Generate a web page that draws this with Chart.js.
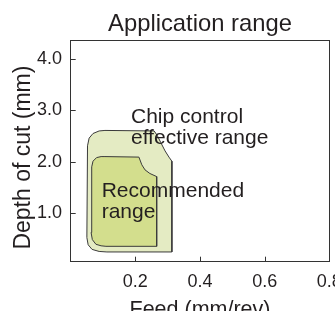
<!DOCTYPE html>
<html>
<head>
<meta charset="utf-8">
<script src="https://cdn.jsdelivr.net/npm/chart.js@4.4.1/dist/chart.umd.min.js"></script>
<style>
  html, body { margin: 0; padding: 0; background: #fff; }
</style>
</head>
<body>
<canvas id="appChart" width="335" height="311"></canvas>
<script>
// axis ticks
const feedTicks = [0.2, 0.4, 0.6, 0.8];
const depthTicks = [1, 2, 3, 4];

// chip control effective range (outline)
const outerFeed = [0.106, 0.258, 0.267, 0.279, 0.292, 0.304, 0.313, 0.313, 0.112, 0.088, 0.066, 0.054, 0.050, 0.052, 0.057, 0.069, 0.088, 0.106];
const outerDepth = [2.61, 2.60, 2.52, 2.37, 2.21, 2.09, 2.01, 0.24, 0.24, 0.25, 0.29, 0.38, 0.52, 2.31, 2.46, 2.55, 2.60, 2.61];

// recommended range
const innerFeed = [0.106, 0.211, 0.220, 0.230, 0.245, 0.266, 0.266, 0.109, 0.094, 0.078, 0.067, 0.063, 0.065, 0.069, 0.080, 0.094, 0.106];
const innerDepth = [2.10, 2.09, 1.94, 1.84, 1.77, 1.71, 0.35, 0.35, 0.36, 0.39, 0.48, 0.62, 1.90, 2.01, 2.08, 2.10, 2.10];

const toPoints = (xs, ys) => xs.map((x, i) => ({ x: x, y: ys[i] }));

const FONT = "'Liberation Sans', Arial, Helvetica, sans-serif";
const INK = "#231f20";
const AXIS = "#333333";

// area labels, drawn at data coordinates
const areaLabels = {
  id: "areaLabels",
  afterDatasetsDraw(chart) {
    const { ctx, scales } = chart;
    const notes = [
      { lines: ["Chip control", "effective range"], x: 0.1865, y: 2.753 },
      { lines: ["Recommended", "range"], x: 0.0959, y: 1.311 }
    ];
    ctx.save();
    ctx.font = "21px " + FONT;
    ctx.fillStyle = INK;
    ctx.textAlign = "left";
    ctx.textBaseline = "alphabetic";
    notes.forEach(n => {
      const px = scales.x.getPixelForValue(n.x);
      const py = scales.y.getPixelForValue(n.y);
      n.lines.forEach((t, i) => ctx.fillText(t, px, py + i * 21));
    });
    ctx.restore();
  }
};

// short tick marks pointing into the plot
const inwardTicks = {
  id: "inwardTicks",
  afterDraw(chart) {
    const { ctx, chartArea, scales } = chart;
    ctx.save();
    ctx.strokeStyle = AXIS;
    ctx.lineWidth = 1;
    ctx.beginPath();
    feedTicks.forEach(v => {
      const px = Math.round(scales.x.getPixelForValue(v)) + 0.5;
      ctx.moveTo(px, chartArea.bottom);
      ctx.lineTo(px, chartArea.bottom - 5);
    });
    depthTicks.forEach(v => {
      const py = Math.round(scales.y.getPixelForValue(v)) + 0.5;
      ctx.moveTo(chartArea.left, py);
      ctx.lineTo(chartArea.left + 5, py);
    });
    ctx.stroke();
    ctx.restore();
  }
};

// fix the axis box sizes so the plot area sits where it does in the picture
const pinBox = (w, h) => s => {
  if (w !== null) s.width = w;
  if (h !== null) s.height = h;
  s.paddingLeft = 0; s.paddingRight = 0; s.paddingTop = 0; s.paddingBottom = 0;
};

new Chart(document.getElementById("appChart"), {
  type: "scatter",
  data: {
    datasets: [
      {
        label: "Recommended range",
        data: toPoints(innerFeed, innerDepth),
        showLine: true,
        fill: "shape",
        backgroundColor: "#d3de8d",
        borderColor: "#3a3a3a",
        borderWidth: 1,
        pointRadius: 0,
        tension: 0
      },
      {
        label: "Chip control effective range",
        data: toPoints(outerFeed, outerDepth),
        showLine: true,
        fill: "shape",
        backgroundColor: "#e4ebc3",
        borderColor: "#3a3a3a",
        borderWidth: 1,
        pointRadius: 0,
        tension: 0
      }
    ]
  },
  options: {
    responsive: false,
    animation: false,
    layout: { autoPadding: false, padding: { left: 0, right: 5.7, top: 0, bottom: 0 } },
    plugins: { legend: { display: false }, tooltip: { enabled: false } },
    scales: {
      x: {
        type: "linear",
        position: "bottom",
        min: 0,
        max: 0.8,
        afterBuildTicks: s => { s.ticks = feedTicks.map(v => ({ value: v })); },
        afterFit: pinBox(null, 49.3),
        ticks: { color: INK, font: { family: FONT, size: 18 }, padding: 9.2, callback: v => v.toFixed(1) },
        grid: { drawOnChartArea: false, drawTicks: false, color: AXIS },
        border: { color: AXIS, width: 1 },
        title: { display: true, text: "Feed (mm/rev)", color: INK, font: { family: FONT, size: 21.5 }, padding: { top: 0, bottom: -12.4 } }
      },
      y: {
        type: "linear",
        position: "left",
        min: 0.05,
        max: 4.36,
        afterBuildTicks: s => { s.ticks = depthTicks.map(v => ({ value: v })); },
        afterFit: pinBox(70.7, null),
        ticks: { color: INK, font: { family: FONT, size: 18 }, padding: 8.7, callback: v => v.toFixed(1) },
        grid: { drawOnChartArea: false, drawTicks: false, color: AXIS },
        border: { color: AXIS, width: 1 },
        title: { display: true, text: "Depth of cut (mm)  ", color: INK, font: { family: FONT, size: 23 }, padding: { top: 9.7, bottom: 0 } }
      },
      top: {
        type: "linear",
        position: "top",
        min: 0,
        max: 0.8,
        afterFit: pinBox(null, 40.7),
        ticks: { display: false },
        grid: { drawOnChartArea: false, drawTicks: false, color: AXIS },
        border: { color: AXIS, width: 1 },
        title: { display: true, text: "Application range", color: INK, font: { family: FONT, size: 23.8 }, padding: { top: 10, bottom: 0 } }
      },
      right: {
        type: "linear",
        position: "right",
        min: 0.05,
        max: 4.36,
        afterFit: pinBox(0, null),
        ticks: { display: false },
        grid: { drawOnChartArea: false, drawTicks: false, color: AXIS },
        border: { color: AXIS, width: 1 }
      }
    }
  },
  plugins: [areaLabels, inwardTicks]
});
</script>
</body>
</html>
